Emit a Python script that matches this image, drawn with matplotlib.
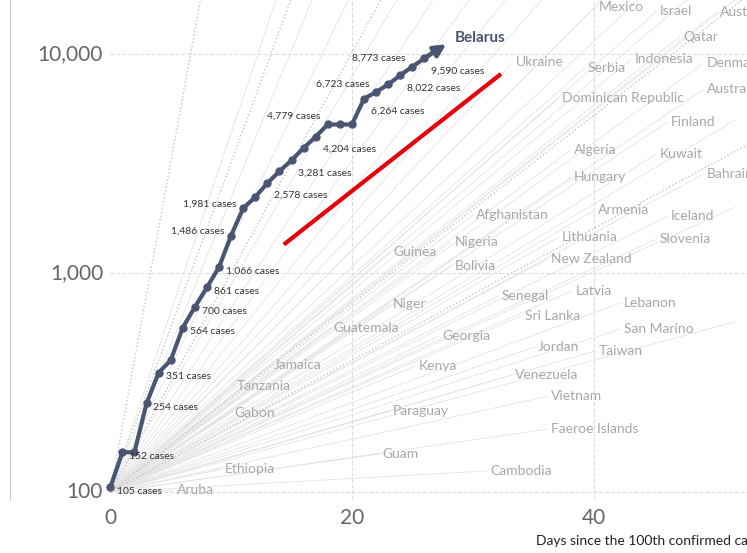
import matplotlib
matplotlib.use('Agg')
import matplotlib.pyplot as plt
import numpy as np

plt.rcParams.update({'font.family': 'Lato'})

# Belarus, days since 100th case
by_day = np.arange(29)
by_cases = [105, 152, 152, 254, 351, 400, 564, 700, 861, 1066, 1486, 1981, 2226,
            2578, 2919, 3281, 3728, 4204, 4779, 4779, 4779, 6264, 6723, 7281,
            8022, 8773, 9590, 10463, 11289]
labelled = {0: 'r', 1: 'r', 3: 'r', 4: 'r', 6: 'r', 7: 'r', 8: 'r', 9: 'r',
            10: 'l', 11: 'l', 13: 'rb', 15: 'rb', 17: 'rb', 18: 'la', 21: 'rb',
            22: 'la', 24: 'rb', 25: 'la', 26: 'rb'}

countries = ['Mexico', 'Israel', 'Austria', 'Qatar', 'Ukraine', 'Serbia', 'Indonesia',
             'Denmark', 'Dominican Republic', 'Australia', 'Finland', 'Algeria', 'Kuwait',
             'Hungary', 'Bahrain', 'Afghanistan', 'Armenia', 'Iceland', 'Nigeria',
             'Lithuania', 'Slovenia', 'Guinea', 'Bolivia', 'New Zealand', 'Latvia', 'Niger',
             'Senegal', 'Lebanon', 'Sri Lanka', 'Guatemala', 'San Marino', 'Georgia',
             'Jordan', 'Taiwan', 'Jamaica', 'Kenya', 'Venezuela', 'Tanzania', 'Vietnam',
             'Gabon', 'Paraguay', 'Faeroe Islands', 'Guam', 'Ethiopia', 'Cambodia', 'Aruba']
c_days = [40.4, 45.5, 50.5, 47.4, 33.6, 39.5, 43.4, 49.4, 37.4, 49.4, 46.4, 38.4, 45.5,
          38.4, 49.4, 30.3, 40.4, 46.4, 28.5, 37.4, 45.5, 23.4, 28.5, 36.5, 38.5, 23.4,
          32.4, 42.5, 34.3, 18.5, 42.5, 27.5, 35.4, 40.4, 13.5, 25.5, 33.5, 10.5, 36.5,
          10.3, 23.4, 36.5, 22.5, 9.5, 31.5, 5.5]
c_cases = [16400, 15700, 15600, 12000, 9180, 8630, 9480, 9100, 6300, 6920, 4890, 3650,
           3500, 2740, 2830, 1840, 1940, 1820, 1390, 1460, 1430, 1250, 1080, 1160, 828,
           721, 785, 730, 637, 561, 555, 515, 459, 441, 380, 376, 342, 305, 274, 230, 234,
           194, 149, 127, 125, 102]

# unlabelled background countries leaving the frame
bg_days = [14, 17, 20, 24, 27, 30, 33, 36, 41, 44, 48, 52, 52, 52, 52]
bg_cases = [17700, 17700, 17700, 17700, 17700, 17700, 17700, 17700, 17700, 17700,
            17700, 17700, 5000, 2000, 600]

doubling = [1, 2, 3, 7, 10]
trend_days = [14.5, 32.2]
trend_cases = [1370, 8020]

fig = plt.figure(figsize=(7.47, 5.53), dpi=100)
ax = fig.add_axes([10 / 747, 53 / 553, 737 / 747, 500 / 553])
ax.set_yscale('log')
ax.set_xlim(-8.3, 52.7)
ax.set_ylim(92, 17700)

for d, c in zip(bg_days + c_days, bg_cases + c_cases):
    ax.plot([0, d - 0.3], [100, c], color='#e4e4e4', lw=0.6, zorder=1)
for name, d, c in zip(countries, c_days, c_cases):
    ax.text(d, c, name, fontsize=10, color='#a8a8a8', va='center', ha='left', zorder=2)

xs = np.linspace(0, 60, 50)
for dd in doubling:
    ax.plot(xs, 100 * 2 ** (xs / dd), ls=':', color='#c4c4c4', lw=1, zorder=1)

for yv in [100, 1000, 10000]:
    ax.plot([0, 60], [yv, yv], ls='--', color='#dddddd', lw=0.8, zorder=0)
    ax.text(-0.6, yv, f'{yv:,}', ha='right', va='center', fontsize=15, color='#666666')
for xv in [20, 40]:
    ax.axvline(xv, ls='--', color='#dddddd', lw=0.8, zorder=0)

ax.plot(trend_days, trend_cases, color='#e8000b', lw=3, zorder=4)

col = '#4a5572'
ax.plot(by_day[:-1], by_cases[:-1], '-o', color=col, lw=3, ms=5, zorder=5)
ax.annotate('', xy=(by_day[-1], by_cases[-1]), xytext=(by_day[-3], by_cases[-3]),
            arrowprops=dict(arrowstyle='-|>', color=col, lw=3, mutation_scale=18), zorder=5)
ax.text(by_day[-1] + 0.5, by_cases[-1] * 1.05, 'Belarus', fontsize=11, fontweight='bold',
        color=col, va='center')
offs = {'r': ((5, -3), 'left'), 'l': ((-5, 3), 'right'), 'rb': ((5, -9), 'left'),
        'la': ((-5, 6), 'right')}
for i, pos in labelled.items():
    (ox, oy), ha = offs[pos]
    ax.annotate(f'{by_cases[i]:,} cases', (by_day[i], by_cases[i]), xytext=(ox, oy),
                textcoords='offset points', fontsize=7.5, color='#333333', ha=ha,
                va='center', zorder=6)

ax.set_yticks([])
ax.set_xticks([0, 20, 40])
ax.set_xticklabels(['0', '20', '40'], fontsize=15, color='#666666')
ax.tick_params(axis='x', length=0, pad=6)
ax.minorticks_off()
ax.set_yticks([], minor=True)
for s in ['top', 'right', 'bottom']:
    ax.spines[s].set_visible(False)
ax.spines['left'].set_color('#cccccc')
fig.text(536 / 747, 1 - 541 / 553, 'Days since the 100th confirmed case', fontsize=10,
         color='#222222', va='center')

fig.savefig('out.png', dpi=100)
